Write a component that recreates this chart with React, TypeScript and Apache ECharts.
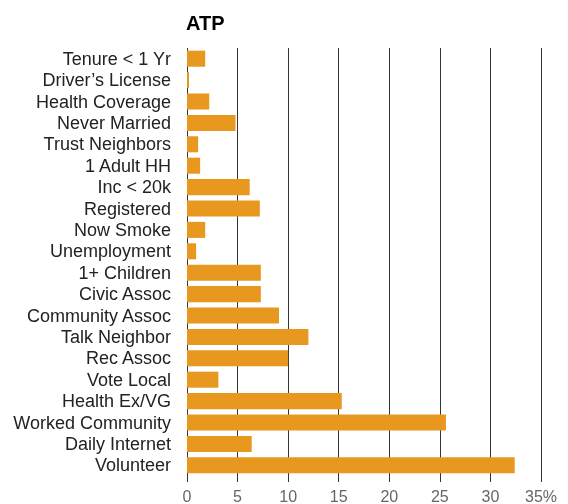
import React, { useEffect, useRef } from "react";
import * as echarts from "echarts";

const categories = [
  "Tenure < 1 Yr",
  "Driver’s License",
  "Health Coverage",
  "Never Married",
  "Trust Neighbors",
  "1 Adult HH",
  "Inc < 20k",
  "Registered",
  "Now Smoke",
  "Unemployment",
  "1+ Children",
  "Civic Assoc",
  "Community Assoc",
  "Talk Neighbor",
  "Rec Assoc",
  "Vote Local",
  "Health Ex/VG",
  "Worked Community",
  "Daily Internet",
  "Volunteer",
];
const values = [1.8, 0.2, 2.2, 4.8, 1.1, 1.3, 6.2, 7.2, 1.8, 0.9, 7.3, 7.3, 9.1, 12.0, 10.0, 3.1, 15.3, 25.6, 6.4, 32.4];
const xTicks = [0, 5, 10, 15, 20, 25, 30, 35];

export default function App() {
  const ref = useRef<HTMLDivElement>(null);
  useEffect(() => {
    const chart = echarts.init(ref.current!, null, { renderer: "svg" });
    chart.setOption({
      animation: false,
      title: {
        text: "ATP",
        left: 181,
        top: 8,
        textStyle: { fontSize: 20, fontWeight: "bold", color: "#000", fontFamily: "Liberation Sans" },
      },
      grid: { left: 187, right: 27, top: 48, bottom: 27, containLabel: false },
      xAxis: {
        type: "value",
        min: 0,
        max: 35,
        interval: 5,
        axisLine: { show: false },
        axisTick: { show: true, length: 6, lineStyle: { color: "#333", width: 1 } },
        splitLine: { show: true, lineStyle: { color: "#333", width: 1 } },
        axisLabel: {
          margin: 12,
          fontSize: 16,
          color: "#666",
          fontFamily: "Liberation Sans",
          formatter: (v: number) => (v === xTicks[xTicks.length - 1] ? v + "%" : String(v)),
        },
      },
      yAxis: {
        type: "category",
        inverse: true,
        data: categories,
        axisLine: { show: false },
        axisTick: { show: false },
        axisLabel: { interval: 0, margin: 16, fontSize: 18, color: "#222", fontFamily: "Liberation Sans" },
      },
      series: [
        {
          type: "bar",
          data: values,
          barCategoryGap: "25%",
          itemStyle: { color: "#E8971F" },
        },
      ],
    });
    return () => chart.dispose();
  }, []);
  return <div ref={ref} style={{ position: "fixed", left: 0, top: 0, width: 568, height: 504 }} />;
}
